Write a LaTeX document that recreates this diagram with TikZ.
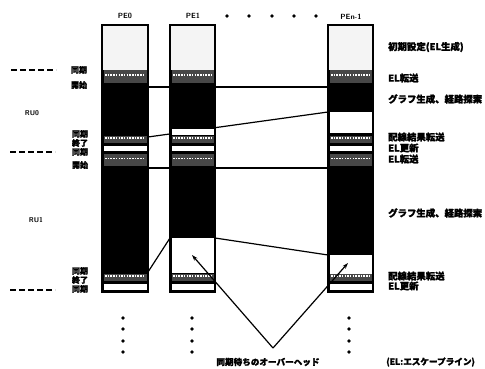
\documentclass[tikz,border=0pt]{standalone}
\usepackage{fontspec}
\newfontfamily\jp[FakeBold=1.6]{Noto Sans CJK JP}
\setmainfont{Liberation Sans}
\usetikzlibrary{arrows.meta}
\begin{document}
\begin{tikzpicture}[x=1pt,y=-1pt,
  conn/.style={line width=1.2pt, draw=black},
  ovarrow/.style={line width=1.2pt, draw=black, -{Stealth[length=6pt,width=4pt]}},
  colout/.style={draw=black, line width=1.4pt},
  stip/.style={fill=gray!9},
  bandbox/.style={fill=black!72},
  gap/.style={fill=white},
  rlabel/.style={anchor=west, inner sep=0pt, font=\jp\bfseries\fontsize{9.4}{10}\selectfont},
  blabel/.style={inner sep=0pt, font=\jp\bfseries\fontsize{8.6}{9}\selectfont},
  llabel/.style={inner sep=0pt, font=\jp\bfseries\fontsize{8}{9}\selectfont, align=center},
  pelabel/.style={inner sep=0pt, font=\sffamily\bfseries\fontsize{7.5}{8}\selectfont},
  rulabel/.style={inner sep=0pt, font=\sffamily\bfseries\fontsize{7}{8}\selectfont},
  dotmark/.style={circle, fill=black, inner sep=0pt, minimum size=3.8pt},
  dashmark/.style={line width=1.8pt, dash pattern=on 6pt off 3pt}
]
\useasboundingbox (0,0) rectangle (485,369);

% connectors behind the columns
\coordinate (a1) at (148,87);
\coordinate (a2) at (328,87);
\coordinate (b0) at (148,137);
\coordinate (b3) at (328,112);
\coordinate (c1) at (148,168);
\coordinate (c2) at (328,168);
\coordinate (d0) at (148,272);
\coordinate (d1) at (170,238);
\coordinate (d2) at (215,238);
\coordinate (d3) at (328,255);
\draw[conn] (a1) -- (a2);
\draw[conn] (b0) -- (b3);
\draw[conn] (c1) -- (c2);
\draw[conn] (d0) -- (d1);
\draw[conn] (d2) -- (d3);

% columns
\foreach \xa/\xb in {102/148, 170/215, 328/373} {
  \fill[black] (\xa,25) rectangle (\xb,292);
  \fill[stip] (\xa,25) rectangle (\xb,70);
  \foreach \ya/\yb in {70/83, 136/143, 154/166, 274/281} {
    \fill[bandbox] (\xa+1.5,\ya) rectangle (\xb-1.5,\yb);
    \draw[white, line width=1.6pt, dash pattern=on 1.5pt off 1.2pt] (\xa+3,{(\ya+\yb)/2-1.5}) -- (\xb-3,{(\ya+\yb)/2-1.5});
  }
  \fill[gap] (\xa+1.5,146) rectangle (\xb-1.5,151);
  \fill[gap] (\xa+1.5,284) rectangle (\xb-1.5,290);
}
% waiting gaps
\fill[gap] (171.5,129) rectangle (213.5,135);
\fill[gap] (171.5,238) rectangle (213.5,273);
\fill[gap] (329.5,112) rectangle (371.5,133);
\fill[gap] (329.5,255) rectangle (371.5,274);
\foreach \xa/\xb in {102/148, 170/215, 328/373} {
  \draw[colout] (\xa,25) rectangle (\xb,292);
}

% column labels
\node[pelabel] (pe0) at (125,16) {PE0};
\node[pelabel] (pe1) at (193,16) {PE1};
\node[pelabel] (pen) at (351,17) {PEn-1};
\foreach \x [count=\i] in {227,249,272,294,316} {
  \node[dotmark] (hd\i) at (\x,16) {};
}
\foreach \x/\n in {123/a, 192/b, 349/c} {
  \foreach \y [count=\i] in {318,329,341,352} {
    \node[dotmark] (vd\n\i) at (\x,\y) {};
  }
}

% left side
\draw[dashmark] (11,70) -- (56,70);
\draw[dashmark] (10,152) -- (55,152);
\draw[dashmark] (10,290) -- (55,290);
\node[rulabel] (ru0) at (32,113) {RU0};
\node[rulabel] (ru1) at (36,220) {RU1};
\node[llabel] (l1) at (79,70) {同期};
\node[llabel] (l2) at (79,85) {開始};
\node[llabel] (l3) at (80,143) {同期\\終了\\同期};
\node[llabel] (l4) at (80,165) {開始};
\node[llabel] (l5) at (80,280) {同期\\終了\\同期};

% right side labels
\node[rlabel] (r1) at (388,47) {初期設定(EL生成)};
\node[rlabel] (r2) at (388,78) {EL転送};
\node[rlabel] (r3) at (388,99) {グラフ生成、経路探索};
\node[rlabel] (r4) at (388,137) {配線結果転送};
\node[rlabel] (r5) at (388,148) {EL更新};
\node[rlabel] (r6) at (388,159) {EL転送};
\node[rlabel] (r7) at (388,213) {グラフ生成、経路探索};
\node[rlabel] (r8) at (388,276) {配線結果転送};
\node[rlabel] (r9) at (388,286) {EL更新};

% overhead arrows
\coordinate (v) at (273,348);
\coordinate (t1) at (192,255);
\coordinate (t2) at (348,263);
\draw[ovarrow] (v) -- (t1);
\draw[ovarrow] (v) -- (t2);
\node[blabel] (ov) at (268,362) {同期待ちのオーバーヘッド};
\node[blabel, anchor=west] (el) at (386,362) {(EL:エスケープライン)};
\end{tikzpicture}
\end{document}
